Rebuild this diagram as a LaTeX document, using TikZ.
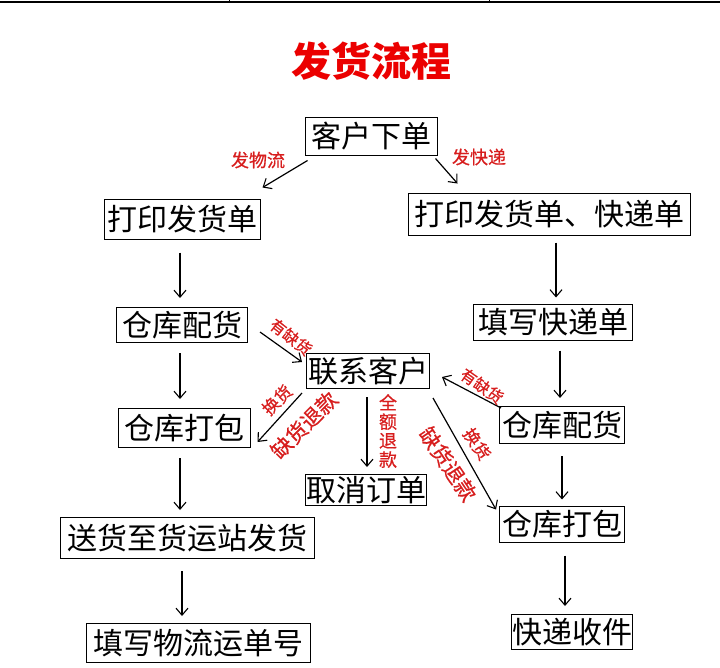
\documentclass[tikz,border=0pt]{standalone}
\usepackage{fontspec}
\newfontfamily\cjk{Noto Sans CJK SC}
\newfontfamily\cjklab[FakeBold=0.6]{Noto Sans CJK SC}
\usetikzlibrary{arrows.meta,calc}
\definecolor{titlered}{RGB}{235,0,0}
\definecolor{labred}{RGB}{215,30,30}
\begin{document}
\begin{tikzpicture}[x=1pt,y=-1pt,
  box/.style={draw,line width=1pt,inner sep=0pt,font=\cjk\fontsize{30}{32}\selectfont},
  lab/.style={text=labred,inner sep=0pt,font=\cjklab\fontsize{#1}{#1}\selectfont},
  lab/.default=16,
  arr/.style={line width=1.2pt,-{Straight Barb[length=7pt,width=12pt,line width=1.1pt]}}
]
\useasboundingbox (0,0) rectangle (720,667);
% top border line
\draw[line width=1.5pt] (0,2) -- (720,2);
\draw[line width=1pt] (229,0) -- (229,3) (489,0) -- (489,3);
% title
\node[text=titlered,font=\cjk\bfseries\fontsize{40}{42}\selectfont] (title) at (371,61) {发货流程};
% boxes
\node[box,minimum width=132pt,minimum height=38pt] (t1) at (371,136) {客户下单};
\node[box,minimum width=156pt,minimum height=40pt] (l1) at (182,219) {打印发货单};
\node[box,minimum width=282pt,minimum height=42pt] (r1) at (549,214) {打印发货单、快递单};
\node[box,minimum width=131pt,minimum height=35pt] (l2) at (182,325) {仓库配货};
\node[box,minimum width=159pt,minimum height=36pt] (r2) at (553,322) {填写快递单};
\node[box,minimum width=123pt,minimum height=35pt] (c) at (368,371) {联系客户};
\node[box,minimum width=132pt,minimum height=39pt] (l3) at (184,428) {仓库打包};
\node[box,minimum width=125pt,minimum height=37pt] (r3) at (562,425) {仓库配货};
\node[box,minimum width=121pt,minimum height=31pt] (cc) at (366,490) {取消订单};
\node[box,minimum width=125pt,minimum height=36pt] (r4) at (562,524) {仓库打包};
\node[box,minimum width=254pt,minimum height=41pt] (l4) at (187,538) {送货至货运站发货};
\node[box,minimum width=121pt,minimum height=35pt] (r5) at (572,632) {快递收件};
\node[box,minimum width=224pt,minimum height=39pt] (l5) at (198,643) {填写物流运单号};
% connectors
\draw[arr] ([shift={(3,5)}]t1.south west) -- ([shift={(2,-11)}]l1.north east);
\draw[arr] ([shift={(-2,3)}]t1.south east) -- ([shift={(50,-9)}]r1.north west);
\draw[arr] ([shift={(-2,13)}]l1.south) -- ([shift={(-2,-9)}]l2.north);
\draw[arr] ([shift={(-2,10)}]l2.south) -- ([shift={(-4,-9)}]l3.north);
\draw[arr] ([shift={(-4,10)}]l3.south) -- ([shift={(-7,-7)}]l4.north);
\draw[arr] ([shift={(-5,12)}]l4.south) -- ([shift={(-16,-7)}]l5.north);
\draw[arr] ([shift={(7,7)}]r1.south) -- ([shift={(3,-6)}]r2.north);
\draw[arr] ([shift={(7,10)}]r2.south) -- ([shift={(-2,-8)}]r3.north);
\draw[arr] ([shift={(0,12)}]r3.south) -- ([shift={(0,-6)}]r4.north);
\draw[arr] ([shift={(3,13)}]r4.south) -- ([shift={(-7,-8)}]r5.north);
\draw[arr] ([shift={(12,7)}]l2.east) -- ([shift={(-4,-9)}]c.west);
\draw[arr] ([shift={(-4,4)}]c.south west) -- ([shift={(7,14)}]l3.east);
\draw[arr] ([shift={(-1,8)}]c.south) -- ([shift={(1,-7)}]cc.north);
\draw[arr] ([shift={(2,2)}]r3.north west) -- ([shift={(12,6)}]c.east);
\draw[arr] ([shift={(3,9)}]c.south east) -- ([shift={(-3,4)}]r4.north west);
% labels
\node[lab=18] (la1) at (258,160) {发物流};
\node[lab=18] (la2) at (479,157) {发快递};
\node[lab=16,rotate=-38] (la3) at (291,337) {有缺货};
\node[lab=17,rotate=45] (la4) at (277,400) {换货};
\node[lab=21,rotate=45] (la5) at (304,425) {缺货退款};
\node[lab=18,align=center] (la6) at (388,431) {全\\[1pt]额\\[1pt]退\\[1pt]款};
\node[lab=16,rotate=-35] (la7) at (482,386) {有缺货};
\node[lab=17,rotate=-56] (la8) at (477,444) {换货};
\node[lab=21,rotate=-56] (la9) at (448,464) {缺货退款};
\end{tikzpicture}
\end{document}
